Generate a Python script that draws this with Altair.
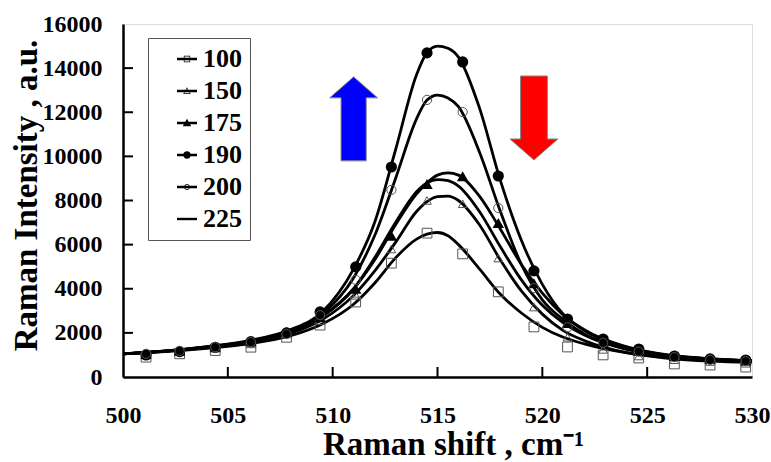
import altair as alt
import pandas as pd

series = ["100", "150", "175", "190", "200", "225"]

# smooth (fitted) curves
line_x = [500, 502, 504, 506, 508, 509.5, 511, 512, 513, 514, 514.5, 515, 515.5, 516,
          517, 518, 519, 520, 521, 522, 524, 526, 528, 530]
line_100 = [1050, 1150, 1300, 1500, 1870, 2400, 3300, 4250, 5400, 6250, 6480, 6550, 6400, 6000,
            4900, 3750, 2900, 2250, 1800, 1500, 1100, 880, 760, 700]
line_150 = [1050, 1160, 1330, 1560, 1980, 2600, 3700, 4800, 6100, 7500, 7950, 8180, 8200, 8000,
            6900, 5300, 3900, 2850, 2100, 1650, 1100, 850, 720, 660]
line_175 = [1050, 1170, 1350, 1600, 2050, 2750, 4000, 5300, 6900, 8300, 8800, 9150, 9250, 9150,
            8200, 6700, 5100, 3800, 2800, 2100, 1350, 980, 820, 730]
line_190 = [1050, 1180, 1380, 1650, 2150, 2950, 4900, 7000, 10300, 13700, 14700, 15000, 14900, 14500,
            12200, 8900, 6200, 4200, 2850, 2150, 1380, 1000, 830, 740]
line_200 = [1050, 1170, 1360, 1620, 2100, 2850, 4500, 6400, 9000, 11700, 12550, 12780, 12650, 12250,
            10200, 7500, 5100, 3500, 2600, 1950, 1300, 980, 820, 730]
line_225 = [1050, 1170, 1350, 1600, 2050, 2750, 4000, 5400, 7000, 8400, 8800, 8950, 8900, 8650,
            7500, 5900, 4400, 3250, 2450, 1900, 1250, 950, 800, 720]

# measured points (markers)
marker_x = [501.1, 502.7, 504.4, 506.1, 507.8, 509.4, 511.1, 512.8, 514.5, 516.2, 517.9, 519.6,
            521.2, 522.9, 524.6, 526.3, 528.0, 529.7]
marker_100 = [900, 1050, 1200, 1350, 1800, 2350, 3400, 5160, 6520, 5580, 3860, 2270,
              1360, 1000, 860, 590, 540, 450]
marker_150 = [1000, 1150, 1300, 1500, 1950, 2550, 3700, 5800, 8000, 7850, 5390, 3170,
              1800, 1250, 950, 780, 700, 620]
marker_175 = [1050, 1200, 1380, 1620, 2050, 2700, 4000, 6400, 8750, 9100, 6980, 4250,
              2450, 1600, 1200, 950, 830, 750]
marker_190 = [1000, 1150, 1350, 1600, 2000, 2950, 4990, 9520, 14690, 14280, 9110, 4810,
              2630, 1720, 1270, 950, 820, 770]
marker_200 = [1050, 1180, 1350, 1580, 1950, 2800, 4400, 8480, 12560, 12010, 7660, 4030,
              2250, 1550, 1150, 900, 780, 720]

x_ticks = [505, 510, 515, 520, 525]
y_ticks = [2000, 4000, 6000, 8000, 10000, 12000, 14000]

arrow_x = [511.0, 519.6]
arrow_y = [11700, 11740]
arrow_kind = ["up", "down"]

lines = {"100": line_100, "150": line_150, "175": line_175, "190": line_190,
         "200": line_200, "225": line_225}
markers = {"100": marker_100, "150": marker_150, "175": marker_175,
           "190": marker_190, "200": marker_200}

line_df = pd.DataFrame([{"series": s, "x": x, "y": y}
                        for s, vals in lines.items() for x, y in zip(line_x, vals)])
marker_df = pd.DataFrame([{"series": s, "x": x, "y": y}
                          for s, vals in markers.items() for x, y in zip(marker_x, vals)])
arrow_df = pd.DataFrame({"x": arrow_x, "y": arrow_y, "kind": arrow_kind})
xt_df = pd.DataFrame({"v": x_ticks})
yt_df = pd.DataFrame({"v": y_ticks})
legend_df = pd.DataFrame({"series": series})

FONT = "Liberation Serif"
W, H = 629, 353

xscale = alt.Scale(domain=[500, 530], nice=False, zero=False)
yscale = alt.Scale(domain=[0, 16000], nice=False)

xaxis = alt.Axis(values=[500, 505, 510, 515, 520, 525, 530], ticks=False, grid=False, format="d",
                 domainColor="black", domainWidth=2.5, labelFont=FONT, labelFontWeight="bold",
                 labelFontSize=24, labelColor="black", labelPadding=26, labelFlush=False,
                 title="Raman shift ,  cm\u207b\u00b9", titleFont=FONT, titleFontWeight="bold",
                 titleFontSize=33, titleColor="black", titleX=330, titleY=77,
                 titleBaseline="alphabetic", titleAlign="center")
yaxis = alt.Axis(values=list(range(0, 16001, 2000)), ticks=False, grid=False, format="d",
                 domainColor="black", domainWidth=2.5, labelFont=FONT, labelFontWeight="bold",
                 labelFontSize=24, labelColor="black", labelPadding=21, labelFlush=False,
                 title="Raman Intensity , a.u.", titleFont=FONT, titleFontWeight="bold",
                 titleFontSize=33, titleColor="black", titleX=-97, titleY=171,
                 titleBaseline="middle", titleAlign="center", titleAngle=-90)

base_x = alt.X("x:Q", scale=xscale, axis=xaxis)
base_y = alt.Y("y:Q", scale=yscale, axis=yaxis)

line_layer = alt.Chart(line_df).mark_line(color="black", strokeWidth=2.8, interpolate="monotone").encode(
    x=base_x, y=base_y, detail="series:N")

def pts(s, **kw):
    return alt.Chart(marker_df).transform_filter(alt.datum.series == s).mark_point(**kw).encode(
        x="x:Q", y="y:Q")

p100 = pts("100", shape="square", filled=False, stroke="#555555", strokeWidth=1, size=95, opacity=1)
p150 = pts("150", shape="triangle-up", filled=False, stroke="#555555", strokeWidth=1, size=75, opacity=1)
p175 = pts("175", shape="triangle-up", filled=True, fill="black", size=130, opacity=1)
p190 = pts("190", shape="circle", filled=True, fill="black", size=125, opacity=1)
p200 = pts("200", shape="circle", filled=False, stroke="#555555", strokeWidth=1, size=85, opacity=1)

up_path = "M0,-1L0.57,-0.5L0.3,-0.5L0.3,1L-0.3,1L-0.3,-0.5L-0.57,-0.5Z"
down_path = "M-0.32,-1L0.32,-1L0.32,0.5L0.57,0.5L0,1L-0.57,0.5L-0.32,0.5Z"
up_arrow = alt.Chart(arrow_df).transform_filter(alt.datum.kind == "up").mark_point(
    shape=up_path, size=7056, filled=True, fill="#0000FF", stroke="#888888", strokeWidth=1, opacity=1
).encode(x="x:Q", y="y:Q")
down_arrow = alt.Chart(arrow_df).transform_filter(alt.datum.kind == "down").mark_point(
    shape=down_path, size=7056, filled=True, fill="#FF0000", stroke="#888888", strokeWidth=1, opacity=1
).encode(x="x:Q", y="y:Q")

xt_layer = alt.Chart(xt_df).mark_rule(color="black", strokeWidth=2).encode(
    x="v:Q", y=alt.value(H), y2=alt.value(H - 10))
yt_layer = alt.Chart(yt_df).mark_rule(color="black", strokeWidth=2).encode(
    y="v:Q", x=alt.value(0), x2=alt.value(10))

seg = "M-1,-0.12H1V0.12H-1Z"
legend_paths = [
    seg + "M-0.32,-0.32H0.32V0.32H-0.32ZM-0.25,-0.25V0.25H0.25V-0.25Z",
    seg + "M0,-0.38L0.38,0.3H-0.38ZM0,-0.26L-0.28,0.23H0.28Z",
    seg + "M0,-0.42L0.42,0.32H-0.42Z",
    seg + "M-0.38,0A0.38,0.38 0 1,1 0.38,0A0.38,0.38 0 1,1 -0.38,0Z",
    seg + "M-0.3,0A0.3,0.3 0 1,1 0.3,0A0.3,0.3 0 1,1 -0.3,0ZM-0.23,0A0.23,0.23 0 1,0 0.23,0A0.23,0.23 0 1,0 -0.23,0Z",
    seg,
]

legend_layer = alt.Chart(legend_df).mark_point(filled=True, color="black", clip=True, opacity=1).encode(
    x=alt.datum(470), y=alt.datum(-8000),
    shape=alt.Shape("series:N", scale=alt.Scale(domain=series, range=legend_paths),
                    legend=alt.Legend(orient="none", legendX=25, legendY=14, title=None,
                                      labelFont=FONT, labelFontSize=26, labelFontWeight="bold",
                                      labelColor="black", symbolSize=400, symbolOffset=18,
                                      symbolStrokeWidth=0, padding=8, rowPadding=6,
                                      labelOffset=3, strokeColor="#555555", fillColor="white")))

chart = alt.layer(
    line_layer, p100, p150, p175, p190, p200, up_arrow, down_arrow, xt_layer, yt_layer, legend_layer
).properties(
    width=W, height=H,
    autosize=alt.AutoSizeParams(type="none"),
    padding={"left": 123, "top": 24, "right": 19, "bottom": 85},
).configure_view(stroke="black", strokeWidth=2.5).configure(background="white")

chart.save("out.html", embed_options={"renderer": "svg", "actions": False})
